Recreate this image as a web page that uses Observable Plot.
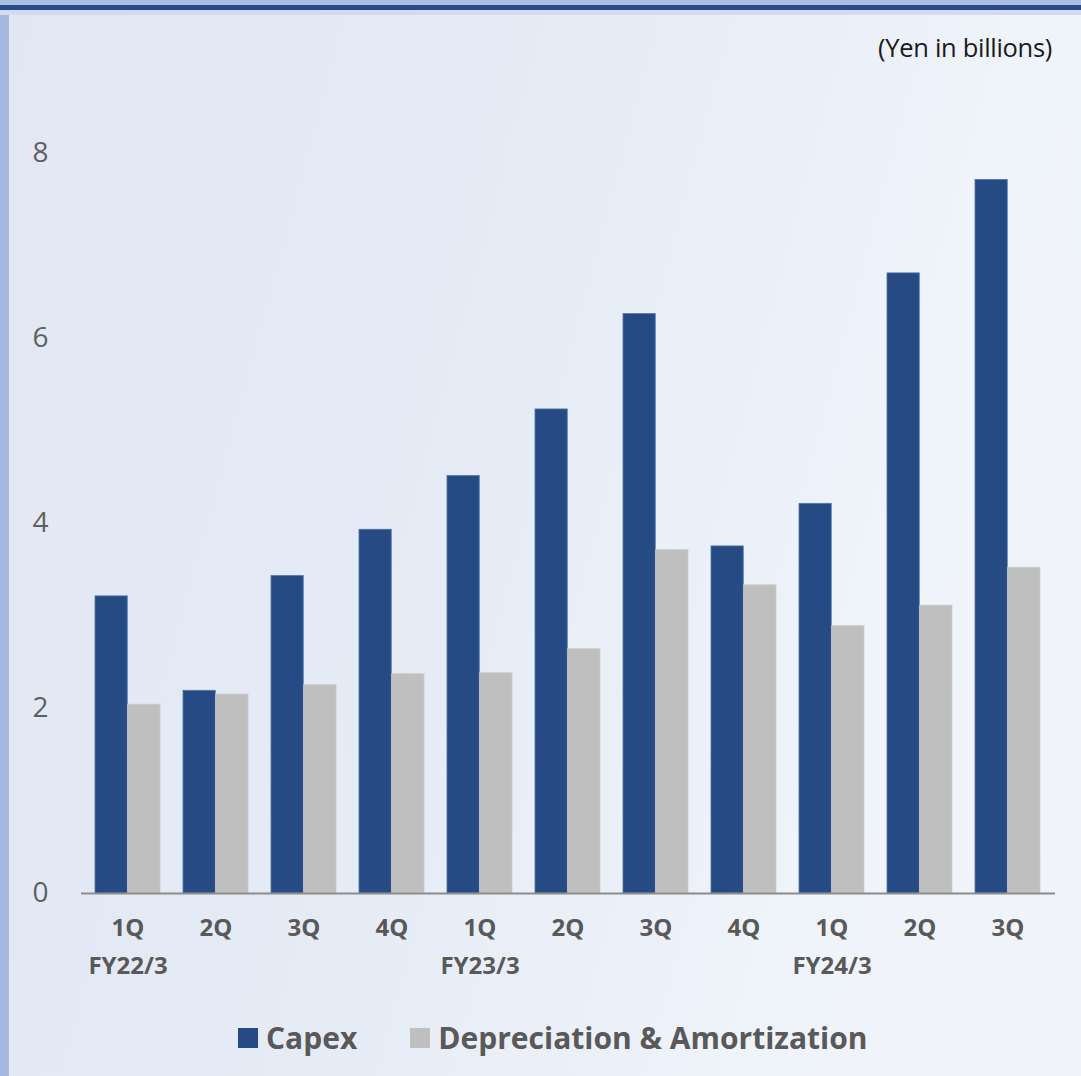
<!DOCTYPE html>
<html>
<head>
<meta charset="utf-8">
<script src="https://cdn.jsdelivr.net/npm/d3@7"></script>
<script src="https://cdn.jsdelivr.net/npm/@observablehq/plot@0.6"></script>
<style>
  html, body { margin: 0; padding: 0; }
  body {
    width: 1081px; height: 1076px; overflow: hidden; position: relative;
    font-family: "Open Sans", "Noto Sans", sans-serif;
    background: linear-gradient(105deg, #e1e7f3 0%, #e6ecf6 45%, #eff3fa 75%, #f1f4fa 100%);
  }
  .band-top { position: absolute; left: 0; top: 0; width: 1081px; height: 5px; background: #aabee2; }
  .band-line { position: absolute; left: 0; top: 5px; width: 1081px; height: 5px; background: #294a8b; }
  .band-under { position: absolute; left: 0; top: 10px; width: 1081px; height: 5px; background: #d3dcef; }
  .band-left { position: absolute; left: 0; top: 15px; width: 9px; height: 1061px; background: #a6b9de; }
  .unit { position: absolute; right: 29px; top: 30px; font-size: 25.5px; color: #1a1a1a; letter-spacing: -0.3px; }
  #chart { position: absolute; left: 0; top: 0; }
  .legend { position: absolute; left: 238px; top: 1017px; display: flex; align-items: center;
    font-size: 30px; font-weight: 700; color: #595959; }
  .legend .sw { width: 20px; height: 20px; display: inline-block; margin-right: 8px; }
  .legend .item { display: flex; align-items: center; margin-right: 53px; }
</style>
</head>
<body>
<div class="band-top"></div>
<div class="band-line"></div>
<div class="band-under"></div>
<div class="band-left"></div>
<div id="chart"></div>
<div class="unit">(Yen in billions)</div>
<div class="legend">
  <span class="item"><span class="sw" style="background:#264a83"></span>Capex</span>
  <span class="item"><span class="sw" style="background:#bfbfbf"></span>Depreciation &amp; Amortization</span>
</div>
<script>
// Quarterly capex and depreciation & amortization (Yen in billions)
const quarters = ["1Q", "2Q", "3Q", "4Q", "1Q", "2Q", "3Q", "4Q", "1Q", "2Q", "3Q"];
const fiscalYears = ["FY22/3", "FY22/3", "FY22/3", "FY22/3", "FY23/3", "FY23/3", "FY23/3", "FY23/3", "FY24/3", "FY24/3", "FY24/3"];
const capex = [3.21, 2.19, 3.43, 3.93, 4.51, 5.23, 6.26, 3.75, 4.21, 6.70, 7.71];
const depreciation = [2.04, 2.15, 2.25, 2.37, 2.38, 2.64, 3.71, 3.33, 2.89, 3.11, 3.52];
const yTicks = [0, 2, 4, 6, 8];

const keys = quarters.map((q, i) => `${fiscalYears[i]} ${q}`);
const rows = keys.map((k, i) => ({key: k, quarter: quarters[i], fy: fiscalYears[i], capex: capex[i], dep: depreciation[i]}));
const firstOfYear = new Set(keys.filter((k, i) => i === 0 || fiscalYears[i] !== fiscalYears[i - 1]));

const W = 1081, H = 1000;
const mL = 81, mR = 26, mT = 60, mB = 107;
const padIn = 0.26, padOut = 0.13;
const step = (W - mL - mR) / (keys.length - padIn + 2 * padOut);
const half = step * (1 - padIn) / 2;

const chart = Plot.plot({
  width: W,
  height: H,
  marginLeft: mL,
  marginRight: mR,
  marginTop: mT,
  marginBottom: mB,
  style: {background: "transparent", fontFamily: "'Open Sans', 'Noto Sans', sans-serif", overflow: "visible"},
  x: {domain: keys, paddingInner: padIn, paddingOuter: padOut, axis: null, label: null},
  y: {domain: [0, 9], axis: null, label: null},
  marks: [
    Plot.barY(rows, {x: "key", y: "capex", fill: "#264a83", stroke: "#5574aa", strokeWidth: 0.8, insetRight: half}),
    Plot.barY(rows, {x: "key", y: "dep", fill: "#bfbfbf", stroke: "#cdcdcd", strokeWidth: 0.8, insetLeft: half}),
    Plot.ruleY([0], {stroke: "#8c8c8c", strokeWidth: 2}),
    Plot.axisY({ticks: yTicks, tickSize: 0, tickPadding: 33, fontSize: 28, fill: "#5f5f5f", label: null, tickFormat: d => String(d)}),
    Plot.axisX({tickSize: 0, tickPadding: 25, fontSize: 24, fontWeight: 700, fill: "#595959", label: null,
      tickFormat: k => rows.find(r => r.key === k).quarter}),
    Plot.axisX({tickSize: 0, tickPadding: 63, fontSize: 24, fontWeight: 700, fill: "#595959", label: null,
      tickFormat: k => firstOfYear.has(k) ? rows.find(r => r.key === k).fy : ""})
  ]
});
document.getElementById("chart").appendChild(chart);
</script>
</body>
</html>
